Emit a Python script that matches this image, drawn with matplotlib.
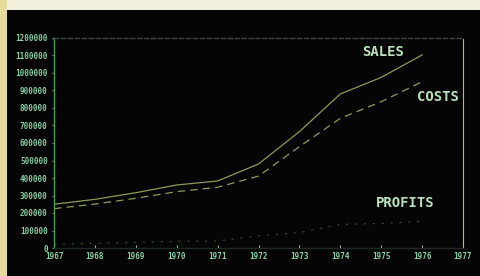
import matplotlib
matplotlib.use("Agg")
import matplotlib.pyplot as plt
from matplotlib.patches import Rectangle

years = [1967, 1968, 1969, 1970, 1971, 1972, 1973, 1974, 1975, 1976]
sales = [250000, 278000, 316000, 360000, 383000, 480000, 665000, 880000, 975000, 1103000]
costs = [225000, 251000, 284000, 322000, 347000, 411000, 579000, 741000, 836000, 950000]
profits = [20000, 27000, 32000, 38000, 40000, 70000, 88000, 135000, 140000, 153000]
xticks = [1967, 1968, 1969, 1970, 1971, 1972, 1973, 1974, 1975, 1976, 1977]
yticks = list(range(0, 1300000, 100000))

fig = plt.figure(figsize=(4.81, 2.76), dpi=100, facecolor="#050505")
# photo border strips
fig.patches.append(Rectangle((0, 1 - 10 / 276), 1, 10 / 276, transform=fig.transFigure,
                             facecolor="#f3f1de", edgecolor="none", zorder=0))
fig.patches.append(Rectangle((0, 0), 7 / 481, 1, transform=fig.transFigure,
                             facecolor="#e6dc98", edgecolor="none", zorder=0))

ax = fig.add_axes([54 / 481, 28 / 276, 409 / 481, 210 / 276], facecolor="#050505")
line_col = "#8c9a55"
ax.plot(years, sales, color=line_col, lw=0.9)
ax.plot(years, costs, color=line_col, lw=0.9, ls=(0, (6, 4)))
ax.plot(years, profits, color="#3a4a30", lw=0.8, ls=(0, (2, 6)))

ax.set_xlim(1967, 1977)
ax.set_ylim(0, 1200000)
ax.set_xticks(xticks)
ax.set_xticklabels([str(y) for y in xticks])
ax.set_yticks(yticks)
ax.set_yticklabels([str(v) for v in yticks])
for lab in ax.get_xticklabels() + ax.get_yticklabels():
    lab.set_fontfamily("DejaVu Sans Mono")
    lab.set_fontsize(5.5)
    lab.set_fontweight("bold")
    lab.set_color("#86cfa4")
ax.tick_params(axis="x", direction="in", length=2, width=0.8, color="#9ac090", pad=3)
ax.tick_params(axis="y", direction="out", length=1.5, width=0.8, color="#4a9a50", pad=3)

ax.spines["left"].set_color("#4c9c52")
ax.spines["left"].set_linewidth(1.0)
ax.spines["bottom"].set_color("#1c2a20")
ax.spines["bottom"].set_linewidth(1.0)
ax.spines["top"].set_color("#3a4a38")
ax.spines["top"].set_linewidth(1.0)
ax.spines["top"].set_linestyle((0, (3, 2)))
ax.spines["right"].set_color("#b8b8a0")
ax.spines["right"].set_linewidth(0.8)
ax.spines["right"].set_linestyle((0, (2, 1)))

txt = dict(color="#b8e2bc", fontfamily="DejaVu Sans Mono", fontweight="bold",
           fontsize=10, ha="center", va="center")
ax.text(1975.04, 1120000, "SALES", **txt)
ax.text(1976.39, 863000, "COSTS", **txt)
ax.text(1975.58, 257000, "PROFITS", **txt)

fig.savefig("out.png", dpi=100, facecolor=fig.get_facecolor())
